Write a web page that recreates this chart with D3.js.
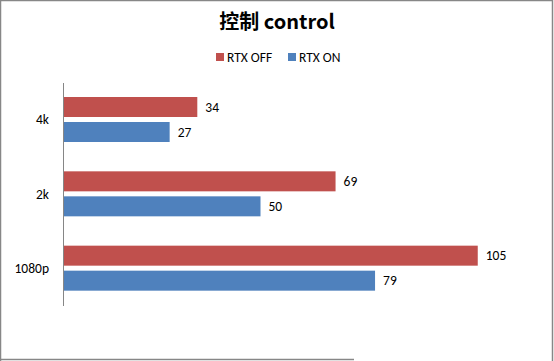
<!DOCTYPE html>
<html>
<head>
<meta charset="utf-8">
<script src="https://cdn.jsdelivr.net/npm/d3@7"></script>
<style>
  body { margin: 0; background: #fff; }
  svg { display: block; }
  text { font-family: Calibri, Carlito, "Liberation Sans", Arial, sans-serif; fill: #000; }
</style>
</head>
<body>
<svg id="chart" width="554" height="361"></svg>
<script>
// data
var categories = ["4k", "2k", "1080p"];
var seriesNames = ["RTX OFF", "RTX ON"];
var rtxOff = [34, 69, 105];
var rtxOn = [27, 50, 79];
var colors = ["#C0504D", "#4F81BD"];

var svg = d3.select("#chart");

// outer frame (bottom edge only partly drawn in the picture)
var frame = [[0, 0.5, 553, 0.5], [0.5, 0, 0.5, 361], [552.5, 0, 552.5, 361], [0, 359.5, 354, 359.5]];
frame.forEach(function(f) {
  svg.append("line")
    .attr("x1", f[0]).attr("y1", f[1]).attr("x2", f[2]).attr("y2", f[3])
    .attr("stroke", "#878787").attr("stroke-width", 1.5);
});

// title
svg.append("text")
  .attr("x", 277).attr("y", 29)
  .attr("text-anchor", "middle")
  .style("font-size", "20px").style("font-weight", "bold")
  .style("font-family", "'Noto Sans CJK SC', 'Liberation Sans', sans-serif")
  .text("控制 control");

// legend
var legendX = [216, 288];
var legend = svg.append("g").attr("class", "legend");
seriesNames.forEach(function(name, i) {
  legend.append("rect")
    .attr("x", legendX[i]).attr("y", 53)
    .attr("width", 8).attr("height", 8)
    .attr("fill", colors[i]);
  legend.append("text")
    .attr("x", legendX[i] + 11).attr("y", 61.5)
    .style("font-size", "13.5px")
    .text(name);
});

// scales
var x = d3.scaleLinear().domain([0, 120]).range([63, 537]);
var y = d3.scaleBand().domain(categories).range([83, 306]);
var inner = d3.scaleBand().domain(seriesNames).range([14, 59]).paddingInner(0.2);

var series = [rtxOff, rtxOn];

var groups = svg.selectAll(".cat")
  .data(categories)
  .enter().append("g")
  .attr("class", "cat")
  .attr("transform", function(d) { return "translate(0," + y(d) + ")"; });

seriesNames.forEach(function(name, s) {
  groups.append("rect")
    .attr("x", x(0))
    .attr("y", inner(name))
    .attr("width", function(d, i) { return x(series[s][i]) - x(0); })
    .attr("height", inner.bandwidth())
    .attr("fill", colors[s]);

  groups.append("text")
    .attr("x", function(d, i) { return x(series[s][i]) + 8; })
    .attr("y", inner(name) + inner.bandwidth() / 2)
    .attr("dy", "0.35em")
    .style("font-size", "13.5px")
    .text(function(d, i) { return series[s][i]; });
});

// category axis
var yAxis = d3.axisLeft(y).tickSize(0).tickPadding(14);
var ax = svg.append("g")
  .attr("transform", "translate(" + x(0) + ",0)")
  .call(yAxis);
ax.select(".domain").attr("stroke", "#868686").attr("d", "M0.5," + y.range()[0] + "V" + y.range()[1]);
ax.selectAll("text")
  .style("font-size", "13.5px")
  .style("font-family", "Calibri, Carlito, 'Liberation Sans', Arial, sans-serif")
  .attr("fill", "#000");
</script>
</body>
</html>
